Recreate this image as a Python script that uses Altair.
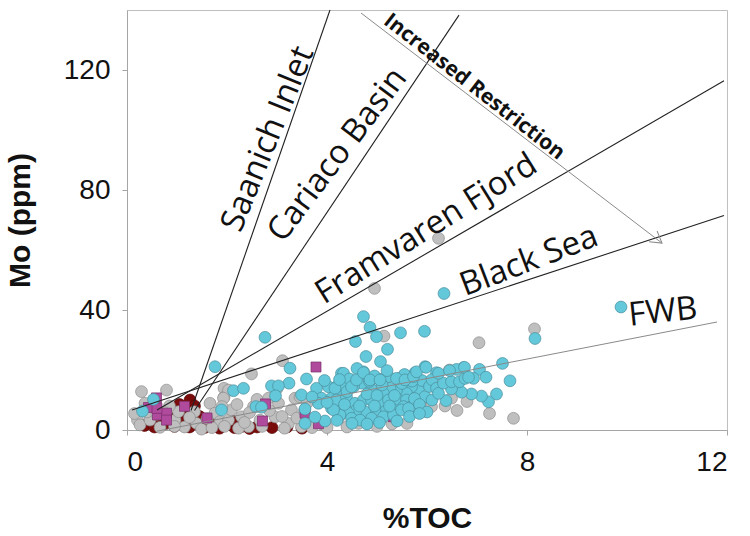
import altair as alt
import pandas as pd

# ---- sample groups: %TOC (x) and Mo in ppm (y) ----
cyan_toc = [9.88, 8.16, 6.34, 4.73, 4.86, 4.57, 4.99, 5.47, 5.95, 5.21, 4.78, 5.07, 2.76, 1.76, 3.26,
            7.51, 7.66, 0.53, 0.31, 1.89,
            3.24, 3.59, 2.89, 3.03, 2.97, 2.13, 2.33, 2.58, 2.69, 3.56, 3.79, 3.49, 3.89, 4.09, 4.26,
            4.03, 4.19, 4.29, 4.33, 4.29, 4.09, 3.96, 3.76, 3.56, 3.83,
            4.33, 4.73, 5.06, 5.23, 5.45, 5.76, 5.96, 6.19, 5.83, 5.96, 5.69, 5.59, 5.39, 5.26, 5.13,
            4.89, 4.69, 4.53, 4.16, 4.19, 4.39, 4.56, 4.73, 4.89, 5.06, 5.23, 5.43, 5.59, 5.69, 5.53,
            5.33, 5.16, 4.96, 4.76, 4.59, 4.43, 4.26, 4.13, 4.49, 4.66, 4.89, 5.13, 5.33, 5.49, 5.63,
            4.45, 4.95, 5.55, 5.90, 6.05, 5.10, 4.80, 5.00, 5.35, 5.75, 6.10, 4.35, 4.65, 4.95, 5.25,
            5.85, 6.00, 4.50, 4.80, 5.05, 5.40, 5.65, 5.85, 4.20, 4.40, 5.70, 6.10, 5.20, 4.60, 3.95,
            3.70, 4.00, 4.25, 5.50, 4.85,
            7.05, 7.18, 6.93, 6.73, 6.59, 7.39, 7.23, 7.09, 6.89, 6.69, 6.49, 6.38, 6.19, 6.23, 6.33,
            6.49, 6.65, 6.76, 6.23, 6.45, 6.75, 6.83,
            4.49, 4.59, 4.73, 4.86, 5.06, 5.39, 5.56, 5.73, 5.79, 5.98]
cyan_mo = [41.0, 30.5, 45.5, 37.8, 34.2, 29.5, 31.1, 32.4, 32.9, 26.9, 24.5, 22.8, 30.9, 21.1, 20.6,
           22.2, 16.4, 10.2, 6.3, 6.7,
           15.6, 17.0, 14.7, 14.7, 11.4, 13.1, 13.9, 7.8, 7.6, 7.0, 13.9, 11.7, 10.6, 10.6, 12.0,
           14.4, 14.4, 18.9, 15.0, 6.7, 7.2, 3.0, 4.3, 2.2, 8.9,
           18.9, 19.4, 16.9, 17.8, 17.2, 19.1, 21.1, 19.1, 13.6, 11.1, 14.4, 12.2, 13.3, 13.9, 12.2,
           13.6, 15.6, 14.4, 13.9, 10.0, 11.1, 8.9, 10.0, 10.0, 8.9, 10.0, 10.0, 10.0, 7.8, 7.8,
           6.7, 6.1, 6.7, 6.1, 6.7, 5.6, 5.0, 6.7, 3.9, 3.3, 3.9, 4.4, 5.0, 6.7, 7.2,
           17.0, 18.0, 18.5, 16.5, 14.5, 15.0, 12.0, 11.5, 11.5, 10.5, 10.0, 8.5, 8.0, 8.0, 8.0,
           8.5, 6.0, 2.2, 2.0, 2.5, 3.0, 4.5, 5.5, 3.2, 12.8, 16.3, 16.8, 19.8, 20.5, 16.5,
           11.0, 9.2, 16.8, 15.5, 16.2,
           20.2, 17.6, 17.2, 20.8, 20.2, 12.0, 9.4, 11.3, 12.0, 12.6, 13.7, 9.8, 13.9, 12.2, 15.6,
           16.1, 16.1, 17.2, 18.9, 19.8, 20.9, 17.6,
           14.4, 16.7, 19.1, 16.7, 16.7, 17.2, 16.7, 17.8, 19.4, 20.9]

gray_toc = [6.23, 4.95, 8.15, 7.04, 5.14, 3.11, 2.49, 7.73, 6.05, 6.36, 6.45, 6.09, 6.49, 5.29,
            4.23, 4.63, 1.94, 1.94, 3.36, 3.46, 0.29, 0.79, 0.36, 2.03, 1.93,
            0.21, 0.26, 0.46, 0.66, 0.96, 1.03, 1.35, 1.66, 1.76, 1.86, 2.03, 1.39, 1.49, 2.09, 2.29,
            2.53, 2.83, 3.03, 3.29, 2.96, 2.43, 3.23, 3.49, 2.23, 2.66,
            0.40, 0.60, 0.15, 0.85, 1.15, 1.60, 1.95, 2.20, 2.45, 2.70, 2.85, 3.10, 3.15, 3.40, 3.60,
            3.70, 3.90, 2.60, 3.00, 1.25, 0.75, 1.90, 2.35, 1.70, 0.95, 3.55, 4.00, 4.40, 5.60, 5.00,
            6.60, 7.25, 6.80, 5.30]
gray_mo = [63.9, 47.2, 33.7, 29.1, 31.3, 23.1, 18.7, 3.9, 8.0, 8.0, 20.0, 7.8, 10.6, 8.3,
           3.9, 2.2, 13.9, 10.9, 10.6, 11.1, 12.8, 13.3, 8.9, 13.3, 10.6,
           3.3, 1.7, 3.3, 0.9, 3.3, 6.1, 6.1, 8.9, 5.6, 2.8, 3.3, 2.2, 0.3, 6.7, 4.4,
           7.8, 10.6, 8.9, 6.7, 4.4, 1.1, 2.2, 1.1, 0.6, 3.3,
           6.0, 5.2, 5.5, 8.0, 1.0, 3.8, 1.2, 8.5, 5.8, 1.2, 6.5, 4.5, 0.6, 4.0, 9.0,
           0.8, 2.0, 10.2, 13.8, 4.2, 5.8, 7.8, 2.5, 0.8, 1.2, 6.3, 0.8, 1.0, 2.2, 1.2,
           6.5, 5.5, 9.5, 2.0]

red_toc = [0.35, 0.55, 0.75, 0.95, 1.10, 1.25, 1.40, 1.55, 1.70, 1.85, 2.00, 2.15, 2.30, 2.45,
           2.60, 2.90, 3.20, 3.50, 1.00, 1.20, 1.26, 1.35, 1.15, 1.45, 1.60, 0.90, 1.80, 2.10,
           0.65, 1.05]
red_mo = [1.5, 1.0, 2.0, 1.2, 2.5, 1.0, 2.0, 0.8, 1.5, 0.6, 1.8, 0.8, 1.2, 0.5,
          1.0, 0.8, 1.0, 0.6, 4.5, 6.5, 10.0, 8.0, 3.5, 4.5, 3.0, 3.2, 2.8, 3.0,
          3.0, 8.5]

sq_toc = [0.59, 0.43, 0.61, 0.79, 0.79, 1.15, 1.60, 3.78, 2.77, 2.71, 3.56, 3.83, 5.33, 0.60]
sq_mo = [10.7, 7.5, 5.0, 5.6, 3.3, 7.9, 4.0, 21.0, 8.7, 3.0, 5.6, 2.1, 4.4, 7.2]

# ---- basin trend lines (start and end points) ----
basin_names = ["Saanich Inlet", "Cariaco Basin", "Framvaren Fjord", "Black Sea"]
basin_toc0 = [1.28, 1.35, 0.60, 0.10]
basin_mo0 = [6.5, 6.5, 6.7, 6.7]
basin_toc1 = [4.06, 6.64, 11.94, 11.94]
basin_mo1 = [140.0, 138.3, 116.4, 71.5]

fwb_toc = [0.60, 11.80]
fwb_mo = [-0.4, 36.0]

arrow_toc = [4.68, 10.70]
arrow_mo = [139.0, 62.3]

# ---- line labels ----
label_text = ["Saanich Inlet", "Cariaco Basin", "Framvaren Fjord", "Black Sea", "FWB"]
label_toc = [2.82, 4.21, 5.99, 8.04, 10.72]
label_mo = [97.0, 91.7, 67.0, 56.3, 39.3]
label_angle = [292, 307, 328, 339, 354]

arrow_label = "Increased Restriction"
arrow_label_toc = 6.94
arrow_label_mo = 114.3
arrow_label_angle = 38

xs = alt.Scale(domain=[0, 12], nice=False, zero=False)
ys = alt.Scale(domain=[0, 140], nice=False, zero=False)
x_axis = alt.Axis(values=[0, 4, 8, 12], title="%TOC", grid=False, tickSize=5,
                  labelPadding=13, titlePadding=27)
y_axis = alt.Axis(values=[0, 40, 80, 120], title="Mo (ppm)", grid=False, tickSize=5,
                  labelPadding=12, titlePadding=28)


def enc_xy():
    return dict(x=alt.X("toc:Q", scale=xs, axis=x_axis),
                y=alt.Y("mo:Q", scale=ys, axis=y_axis))


def scatter(tocs, mos, fill, stroke, shape, size):
    df = pd.DataFrame({"toc": tocs, "mo": mos})
    return alt.Chart(df).mark_point(shape=shape, filled=True, fill=fill, stroke=stroke,
                                    strokeWidth=0.7, size=size, opacity=1).encode(**enc_xy())


red_layer = scatter(red_toc, red_mo, "#7A0B0B", "#5a0606", "circle", 140)
gray_layer = scatter(gray_toc, gray_mo, "#BFBFBF", "#8C8C8C", "circle", 140)
sq_layer = scatter(sq_toc, sq_mo, "#B04A9C", "#7A2E6B", "square", 100)
cyan_layer = scatter(cyan_toc, cyan_mo, "#62C8DA", "#4A8E9C", "circle", 140)

basin_df = pd.DataFrame({"name": basin_names, "toc": basin_toc0, "mo": basin_mo0,
                         "toc2": basin_toc1, "mo2": basin_mo1})
basin_lines = alt.Chart(basin_df).mark_rule(color="#222222", strokeWidth=1.1).encode(
    **enc_xy(), x2="toc2:Q", y2="mo2:Q")

fwb_df = pd.DataFrame({"toc": [fwb_toc[0]], "mo": [fwb_mo[0]],
                       "toc2": [fwb_toc[1]], "mo2": [fwb_mo[1]]})
fwb_line = alt.Chart(fwb_df).mark_rule(color="#8A8A8A", strokeWidth=1).encode(
    **enc_xy(), x2="toc2:Q", y2="mo2:Q")

arrow_df = pd.DataFrame({"toc": [arrow_toc[0]], "mo": [arrow_mo[0]],
                         "toc2": [arrow_toc[1]], "mo2": [arrow_mo[1]]})
arrow_line = alt.Chart(arrow_df).mark_rule(color="#8A8A8A", strokeWidth=1).encode(
    **enc_xy(), x2="toc2:Q", y2="mo2:Q")
arrow_head = alt.Chart(pd.DataFrame({"toc": [arrow_toc[1]], "mo": [arrow_mo[1]]})).mark_point(
    shape="M -1 -0.6 L 0 0 L -1 0.6", filled=False, stroke="#8A8A8A", strokeWidth=1,
    size=500, angle=37, opacity=1).encode(**enc_xy())

label_df = pd.DataFrame({"text": label_text, "toc": label_toc, "mo": label_mo,
                         "ang": label_angle})
labels = alt.Chart(label_df).mark_text(font="Open Sans", fontSize=33, color="#111111",
                                       align="center", baseline="middle").encode(
    **enc_xy(), text="text:N", angle=alt.Angle("ang:Q", scale=None))

arrow_text = alt.Chart(pd.DataFrame({"text": [arrow_label], "toc": [arrow_label_toc],
                                     "mo": [arrow_label_mo]})).mark_text(
    font="Open Sans", fontSize=21, fontWeight="bold", color="#111111", align="center",
    baseline="middle", angle=arrow_label_angle).encode(**enc_xy(), text="text:N")

chart = alt.layer(
    red_layer, gray_layer, sq_layer, cyan_layer,
    basin_lines, fwb_line, arrow_line, arrow_head, labels, arrow_text
).properties(
    width=600, height=420,
    padding={"left": 127, "top": 10, "right": 23, "bottom": 106},
    autosize=alt.AutoSizeParams(type="none"),
    background="white",
).configure_view(
    stroke="#BFBFBF", strokeWidth=1
).configure_axis(
    domainColor="#A6A6A6", tickColor="#A6A6A6", domainWidth=1,
    labelFont="Liberation Sans", labelFontSize=28, labelColor="#111111",
    titleFont="Liberation Sans", titleFontSize=30, titleFontWeight="bold", titleColor="#111111",
)

chart.save("out.html", embed_options={"renderer": "svg", "actions": False})
